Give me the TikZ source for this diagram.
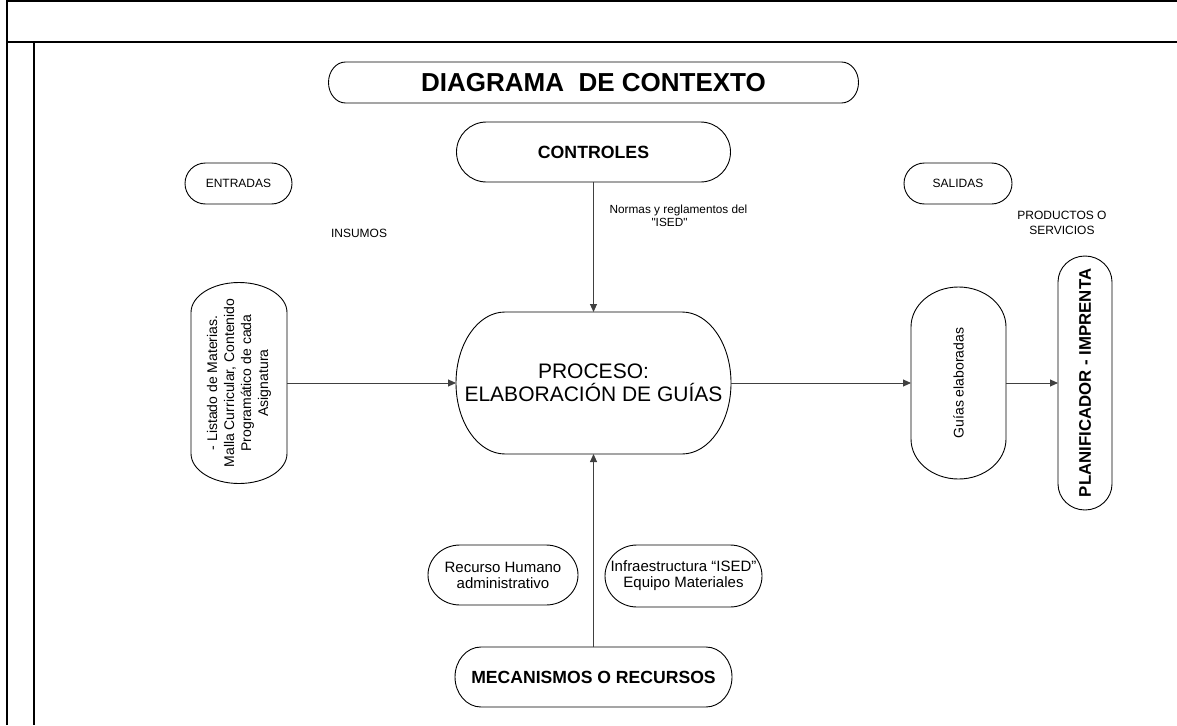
\documentclass[tikz,border=0pt]{standalone}
\usepackage{fontspec}
\setmainfont{Liberation Sans}
\usetikzlibrary{arrows.meta}
\newcommand\rbx[3]{%
 \draw[outl] ([xshift=#2]#1.north west) -- ([xshift=-#2]#1.north east)
   arc[start angle=90,end angle=0,x radius=#2,y radius=#3]
   -- ([yshift=#3]#1.south east)
   arc[start angle=0,end angle=-90,x radius=#2,y radius=#3]
   -- ([xshift=#2]#1.south west)
   arc[start angle=270,end angle=180,x radius=#2,y radius=#3]
   -- ([yshift=-#3]#1.north west)
   arc[start angle=180,end angle=90,x radius=#2,y radius=#3] -- cycle;}
\begin{document}
\begin{tikzpicture}[x=1pt,y=1pt,
  outl/.style={line width=0.9pt,black},
  box/.style={inner sep=0pt,outer sep=0pt,align=center},
  lbl/.style={inner sep=0pt,align=center},
  arr/.style={line width=0.9pt,draw=black!75,-{Triangle[length=8pt,width=7pt]}},
  frame/.style={line width=1.3pt,black}]
\useasboundingbox (0,0) rectangle (1177,-725);
% frame
\draw[frame] (7,-725) -- (7,-1) -- (1177,-1);
\draw[frame] (7,-42) -- (1177,-42);
\draw[frame] (34,-42) -- (34,-725);
% title
\node[box,minimum width=530,minimum height=41,font=\bfseries\fontsize{26}{30}\selectfont] (title) at (593.5,-82.5) {DIAGRAMA\ \ DE CONTEXTO};
\rbx{title}{17pt}{20.5pt}
% controles
\node[box,minimum width=274,minimum height=60,font=\bfseries\fontsize{17.7}{20}\selectfont] (ctrl) at (593.5,-152) {CONTROLES};
\rbx{ctrl}{30pt}{30pt}
\node[lbl,font=\fontsize{11.8}{12.5}\selectfont] (normas) at (678.5,-216) {Normas y reglamentos del\\\textquotedbl ISED\textquotedbl\hspace*{18pt}};
% entradas / salidas
\node[box,minimum width=107,minimum height=41,font=\fontsize{12}{14}\selectfont] (entr) at (238.5,-183.5) {ENTRADAS};
\rbx{entr}{20.5pt}{20.5pt}
\node[box,minimum width=108,minimum height=41,font=\fontsize{12}{14}\selectfont] (sal) at (958,-183.5) {SALIDAS};
\rbx{sal}{20.5pt}{20.5pt}
\node[lbl,font=\fontsize{12}{14}\selectfont] (insumos) at (359,-233) {INSUMOS};
\node[lbl,font=\fontsize{12}{15}\selectfont] (prod) at (1062,-222.5) {PRODUCTOS O\\SERVICIOS};
% listado
\node[box,minimum width=96,minimum height=201] (list) at (239,-383) {};
\rbx{list}{48pt}{30pt}
\node[lbl,rotate=90,font=\fontsize{14}{17}\selectfont] (listt) at (list.center) {- Listado de Materias.\\Malla Curricular, Contenido\\Programático de cada\\Asignatura};
% proceso
\node[box,minimum width=275,minimum height=142,font=\fontsize{21}{23}\selectfont] (proc) at (593.5,-383) {PROCESO:\\ELABORACIÓN DE GUÍAS};
\rbx{proc}{49pt}{71pt}
% guias
\node[box,minimum width=95,minimum height=192] (guias) at (958.5,-383) {};
\rbx{guias}{47.5pt}{40pt}
\node[lbl,rotate=90,font=\fontsize{14}{16}\selectfont] (guiast) at (guias.center) {Guías elaboradas};
% planificador
\node[box,minimum width=54,minimum height=254] (plan) at (1085,-383) {};
\rbx{plan}{27pt}{26pt}
\node[lbl,rotate=90,font=\bfseries\fontsize{16.8}{19}\selectfont] (plant) at (plan.center) {PLANIFICADOR - IMPRENTA};
% recursos
\node[box,minimum width=150,minimum height=60,font=\fontsize{15}{16}\selectfont] (rh) at (503,-575) {Recurso Humano\\administrativo};
\rbx{rh}{32pt}{30pt}
\node[box,minimum width=157,minimum height=62,font=\fontsize{15}{16}\selectfont] (inf) at (683.5,-576) {Infraestructura “ISED”\\Equipo Materiales};
\rbx{inf}{32pt}{31pt}
\node[box,minimum width=277,minimum height=60,font=\bfseries\fontsize{17.6}{20}\selectfont] (mec) at (593.5,-677) {MECANISMOS O RECURSOS};
\rbx{mec}{26pt}{30pt}
% connectors
\draw[arr] (list.east) -- (proc.west);
\draw[arr] (proc.east) -- (guias.west);
\draw[arr] (guias.east) -- (plan.west);
\draw[arr] (ctrl.south) -- (proc.north);
\draw[arr] (mec.north) -- (proc.south);
\end{tikzpicture}
\end{document}
